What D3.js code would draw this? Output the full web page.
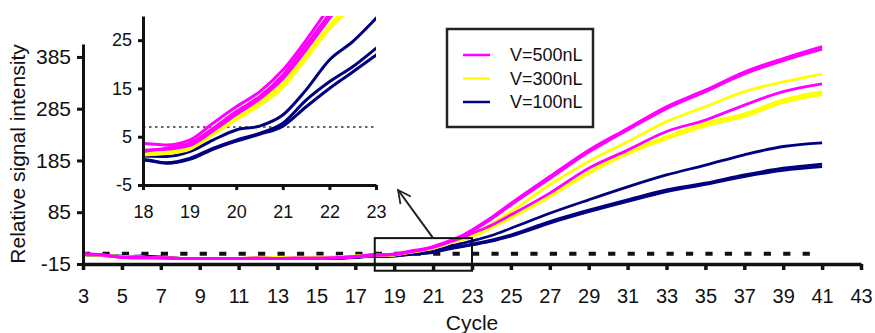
<!DOCTYPE html>
<html>
<head>
<meta charset="utf-8">
<script src="https://cdn.jsdelivr.net/npm/d3@7"></script>
<style>
  body { margin: 0; background: #fff; }
  text { font-family: "Liberation Sans", Arial, sans-serif; fill: #111; }
</style>
</head>
<body>
<script>
const cycles = [3, 4, 5, 6, 7, 8, 9, 10, 11, 12, 13, 14, 15, 16, 17,
  18, 18.5, 19, 19.5, 20, 20.5, 21, 21.5, 22, 22.5, 23,
  24, 25, 27, 29, 31, 33, 35, 37, 39, 41]

// V=500nL replicates
const v500a = [5, 3, -2, -3, -3, -4, -4, -4, -4, -4, -4, -3, -4, -3, -1,
  3.6, 3.3, 4.3, 7.8, 11.2, 14.3, 18.8, 25, 32, 40, 51,
  75, 102, 154, 205, 247, 289, 321, 356, 382, 405]
const v500b = [4, 2, -2, -3, -3, -4, -4, -4, -4, -4, -4, -4, -4, -3, -1,
  1.9, 2.6, 3.6, 6.7, 10.2, 13.3, 17.8, 24, 30.5, 38.5, 49,
  72, 99, 150, 201, 244, 285, 318, 352, 378, 400]
const v500c = [4, 2, -2, -2, -3, -4, -4, -4, -4, -3, -4, -4, -3, -3, -1,
  2.2, 2.4, 3.2, 6.2, 9.6, 12.8, 17, 23, 29.5, 36, 44,
  60, 80, 122, 170, 205, 241, 263, 292, 318, 333]

// V=300nL replicates
const v300a = [4, 2, -1, -2, -3, -4, -4, -4, -4, -3, -3, -4, -2, -2, 0,
  1.5, 1.8, 2.8, 6, 9.4, 12.5, 16.6, 23, 29.5, 35, 41,
  62, 86, 138, 183, 221, 260, 289, 318, 337, 352]
const v300b = [3, 2, -1, -2, -3, -4, -4, -4, -4, -3, -3, -3, -2, -2, 0,
  1.4, 1.7, 2.6, 5.7, 8.8, 11.9, 15.7, 21.9, 28, 33, 38,
  56, 76, 118, 163, 202, 231, 257, 275, 302, 318]
const v300c = [3, 1, -2, -2, -3, -4, -4, -4, -4, -3, -3, -3, -3, -2, 0,
  1.2, 1.5, 2.4, 5.4, 8.5, 11.5, 15.2, 21.2, 27.3, 32, 37,
  55, 74, 115, 160, 198, 227, 252, 270, 297, 312]

// V=100nL replicates
const v100a = [3, 2, 0, -1, -2, -4, -4, -4, -4, -4, -4, -4, -4, -4, -2,
  1, 0.9, 1.9, 4.3, 6.4, 7.2, 9.5, 14.7, 20.9, 24.7, 29.5,
  40, 54, 83, 109, 134, 157, 176, 196, 212, 219]
const v100b = [3, 2, -1, 0, -2, -4, -4, -4, -4, -4, -4, -4, -4, -4, -2,
  0.3, -0.4, 0.5, 2.6, 4.3, 5.7, 7.8, 12.6, 16.4, 19.5, 23.3,
  31, 41, 67, 89, 109, 128, 141, 157, 170, 178]
const v100c = [3, 1, -1, 0, -2, -4, -4, -4, -4, -4, -4, -4, -4, -4, -2,
  0.2, -0.5, 0.3, 2.4, 4.1, 5.5, 7.2, 11.2, 15, 18.4, 21.9,
  29, 39, 64, 86, 106, 125, 139, 154, 166, 173]

const seriesNames = ['V=500nL', 'V=300nL', 'V=100nL']
const seriesColors = ['#ff00ff', '#ffff00', '#000080']
const seriesValues = [[v500a, v500b, v500c], [v300a, v300b, v300c], [v100a, v100b, v100c]]

const xTicks = d3.range(3, 44, 2)
const yTicks = [-15, 85, 185, 285, 385]
const insetXTicks = [18, 19, 20, 21, 22, 23]
const insetYTicks = [-5, 5, 15, 25]
const mainThreshold = 5
const insetThreshold = 7

const width = 875,
  height = 333

const svg = d3.select('body')
  .append('svg')
  .attr('width', width)
  .attr('height', height)

const xMain = d3.scaleLinear().domain([3, 43]).range([83, 861])
const yMain = d3.scaleLinear().domain([-15, 410]).range([264, 44])
const xInset = d3.scaleLinear().domain([18, 23]).range([143, 376])
const yInset = d3.scaleLinear().domain([-5, 30]).range([185, 16])

// plain hyphen minus, as in the original
const fmt = d => String(d)

// curves in drawing order: navy below, magenta on top
const curves = []
seriesValues.forEach((group, i) => {
  group.forEach(vals => {
    curves.push({ color: seriesColors[i], points: cycles.map((c, j) => [c, vals[j]]) })
  })
})
curves.reverse()

const styleAxis = (g, w) => {
  g.selectAll('.domain').attr('stroke', '#111').attr('stroke-width', w)
  g.selectAll('.tick line').attr('stroke', '#111').attr('stroke-width', w)
  g.selectAll('.tick text').attr('fill', '#111')
}

// ---- main chart
const defs = svg.append('defs')
defs.append('marker')
  .attr('id', 'arrowhead')
  .attr('viewBox', '0 0 10 10')
  .attr('refX', 9)
  .attr('refY', 5)
  .attr('markerWidth', 8)
  .attr('markerHeight', 8)
  .attr('orient', 'auto')
  .append('path')
  .attr('d', 'M1,1 L9,5 L1,9')
  .attr('fill', 'none')
  .attr('stroke', '#222')
  .attr('stroke-width', 1.1)

defs.append('clipPath')
  .attr('id', 'insetClip')
  .append('rect')
  .attr('x', xInset(18))
  .attr('y', yInset(30))
  .attr('width', xInset(23) - xInset(18))
  .attr('height', yInset(-5) - yInset(30))

svg.append('line')
  .attr('x1', xMain(3))
  .attr('x2', xMain(40.4))
  .attr('y1', yMain(mainThreshold))
  .attr('y2', yMain(mainThreshold))
  .attr('stroke', '#111')
  .attr('stroke-width', 4)
  .attr('stroke-dasharray', `${xMain(3.37) - xMain(3)} ${xMain(4) - xMain(3.37)}`)

const mainLine = d3.line()
  .x(d => xMain(d[0]))
  .y(d => yMain(d[1]))
  .curve(d3.curveMonotoneX)

svg.append('g')
  .selectAll('path')
  .data(curves)
  .enter()
  .append('path')
  .attr('d', d => mainLine(d.points))
  .attr('fill', 'none')
  .attr('stroke', d => d.color)
  .attr('stroke-width', 2.8)
  .attr('stroke-linejoin', 'round')

const xAxis = svg.append('g')
  .attr('transform', `translate(0, ${yMain(-15)})`)
  .call(d3.axisBottom(xMain).tickValues(xTicks).tickFormat(fmt).tickSize(6).tickSizeOuter(0).tickPadding(19))
xAxis.selectAll('text').style('font-size', '20px')
styleAxis(xAxis, 3.5)

const yAxis = svg.append('g')
  .attr('transform', `translate(${xMain(3)}, 0)`)
  .call(d3.axisLeft(yMain).tickValues(yTicks).tickFormat(fmt).tickSize(6).tickSizeOuter(0).tickPadding(6))
yAxis.selectAll('text').style('font-size', '21px')
styleAxis(yAxis, 3)

svg.append('text')
  .attr('x', (xMain(3) + xMain(43)) / 2)
  .attr('y', 330)
  .attr('text-anchor', 'middle')
  .style('font-size', '21px')
  .text('Cycle')

svg.append('text')
  .attr('transform', `translate(25, ${(yMain(-15) + yMain(410)) / 2}) rotate(-90)`)
  .attr('text-anchor', 'middle')
  .style('font-size', '21px')
  .text('Relative signal intensity')

// zoom box and arrow
svg.append('rect')
  .attr('x', xMain(18))
  .attr('y', yMain(35))
  .attr('width', xMain(23) - xMain(18))
  .attr('height', yMain(-28) - yMain(35))
  .attr('fill', 'none')
  .attr('stroke', '#111')
  .attr('stroke-width', 2)

svg.append('line')
  .attr('x1', xMain(21))
  .attr('y1', yMain(35))
  .attr('x2', xMain(19.2))
  .attr('y2', yMain(128))
  .attr('stroke', '#222')
  .attr('stroke-width', 2)
  .attr('marker-end', 'url(#arrowhead)')

// ---- inset
svg.append('line')
  .attr('x1', xInset(18))
  .attr('x2', xInset(23))
  .attr('y1', yInset(insetThreshold))
  .attr('y2', yInset(insetThreshold))
  .attr('stroke', '#333')
  .attr('stroke-width', 1.6)
  .attr('stroke-dasharray', '2.5 3.5')

const insetLine = d3.line()
  .x(d => xInset(d[0]))
  .y(d => yInset(d[1]))
  .curve(d3.curveMonotoneX)

svg.append('g')
  .attr('clip-path', 'url(#insetClip)')
  .selectAll('path')
  .data(curves)
  .enter()
  .append('path')
  .attr('d', d => insetLine(d.points.filter(p => p[0] >= 17 && p[0] <= 24)))
  .attr('fill', 'none')
  .attr('stroke', d => d.color)
  .attr('stroke-width', 3)
  .attr('stroke-linejoin', 'round')

const insetX = svg.append('g')
  .attr('transform', `translate(0, ${yInset(-5)})`)
  .call(d3.axisBottom(xInset).tickValues(insetXTicks).tickFormat(fmt).tickSize(5).tickSizeOuter(0).tickPadding(15))
insetX.selectAll('text').style('font-size', '18px')
styleAxis(insetX, 3)

const insetY = svg.append('g')
  .attr('transform', `translate(${xInset(18)}, 0)`)
  .call(d3.axisLeft(yInset).tickValues(insetYTicks).tickFormat(fmt).tickSize(5).tickSizeOuter(0).tickPadding(6))
insetY.selectAll('text').style('font-size', '18px')
styleAxis(insetY, 3)

// ---- legend
const legend = svg.append('g')
legend.append('rect')
  .attr('x', 447)
  .attr('y', 29)
  .attr('width', 146)
  .attr('height', 98)
  .attr('fill', '#fff')
  .attr('stroke', '#222')
  .attr('stroke-width', 2.5)

const items = legend.selectAll('g.item')
  .data(seriesNames)
  .enter()
  .append('g')
  .attr('class', 'item')
  .attr('transform', (d, i) => `translate(463, ${55 + i * 23.5})`)

items.append('line')
  .attr('x1', 0)
  .attr('x2', 27)
  .attr('stroke', (d, i) => seriesColors[i])
  .attr('stroke-width', 2.5)

items.append('text')
  .attr('x', 47)
  .attr('dy', '0.36em')
  .style('font-size', '18px')
  .text(d => d)
</script>
</body>
</html>
